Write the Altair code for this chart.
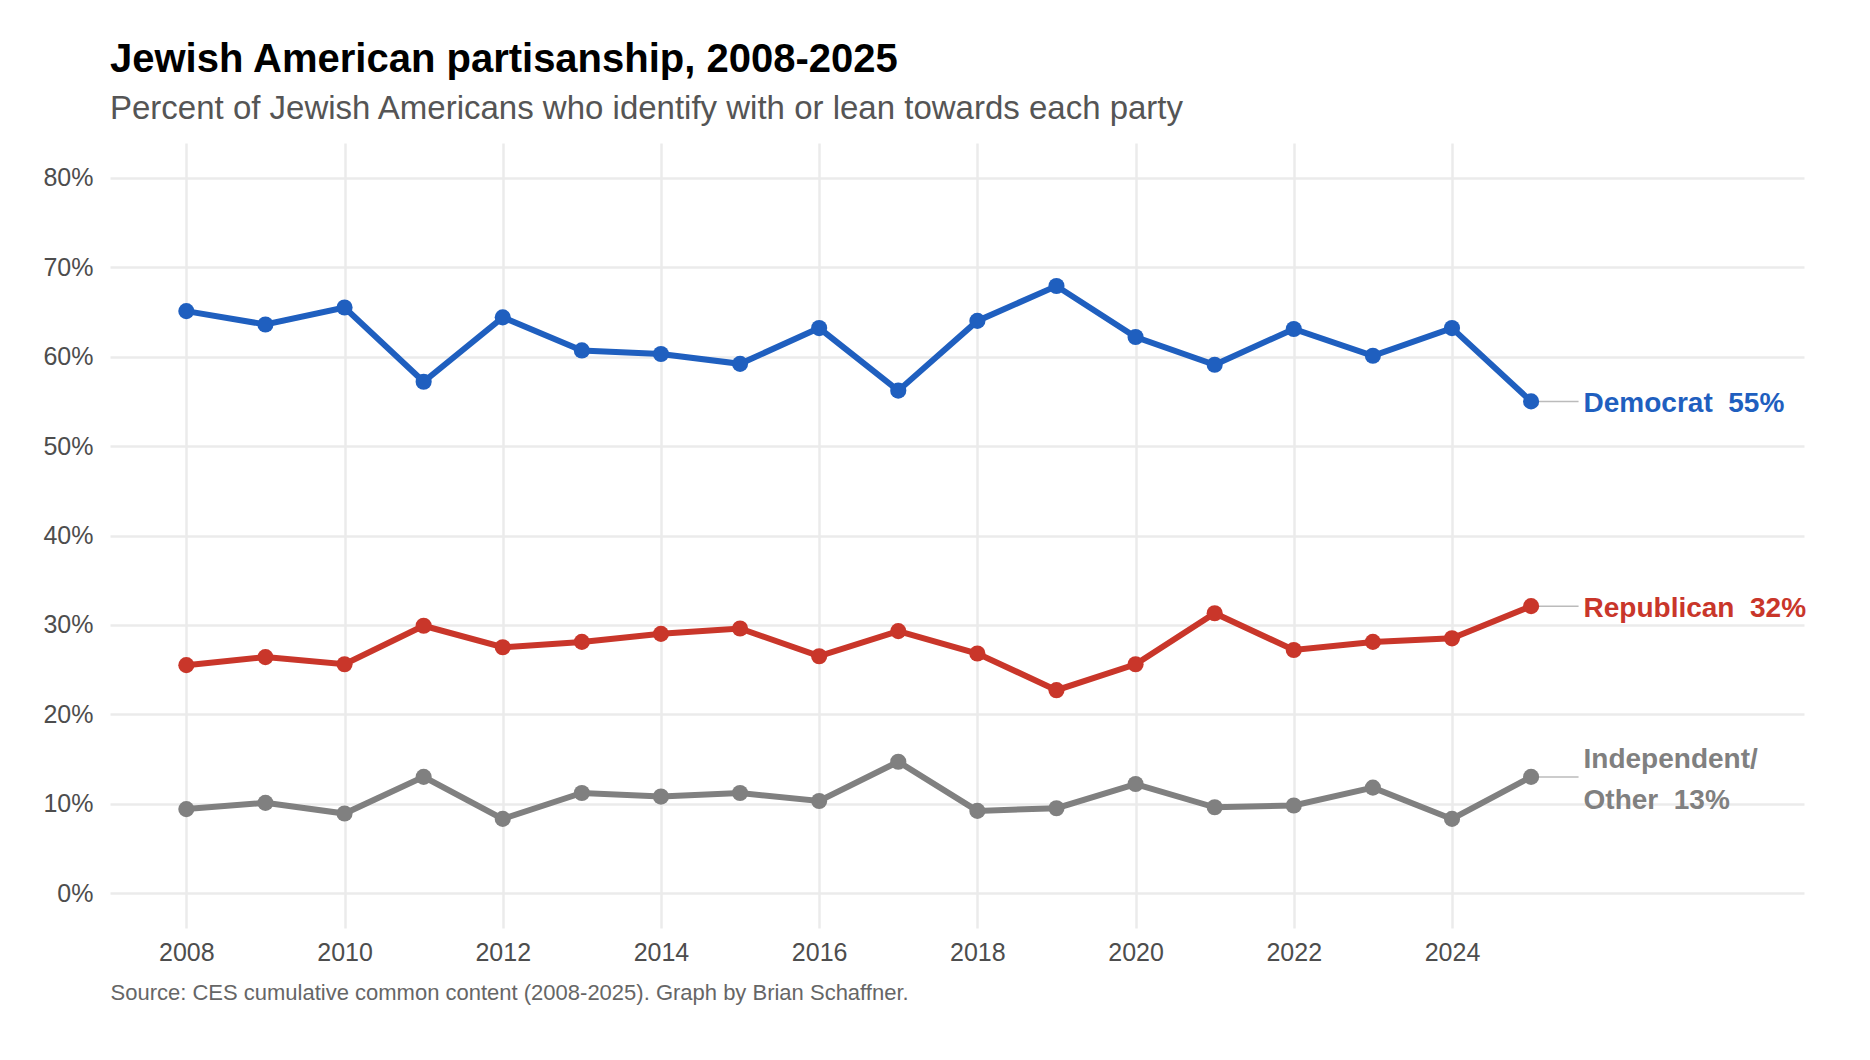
import pandas as pd
import altair as alt

### data (percent of Jewish Americans)

years = list(range(2008, 2026))
democrat = [65.1, 63.6, 65.5, 57.2, 64.4, 60.7, 60.3, 59.2, 63.2, 56.2, 64.0, 67.9, 62.2, 59.1, 63.1, 60.1, 63.2, 55.0]
republican = [25.5, 26.4, 25.6, 29.9, 27.5, 28.1, 29.0, 29.6, 26.5, 29.3, 26.8, 22.7, 25.6, 31.3, 27.2, 28.1, 28.5, 32.1]
independent = [9.4, 10.1, 8.9, 13.0, 8.3, 11.2, 10.8, 11.2, 10.3, 14.7, 9.2, 9.5, 12.2, 9.6, 9.8, 11.8, 8.3, 13.0]

parties = ["Democrat", "Republican", "Independent/Other"]
label_names = ["Democrat", "Republican", "Independent/\nOther"]
colors = ["#1f5fbf", "#c9362a", "#808080"]
text_colors = ["#1f5fbf", "#c9362a", "#888888"]

x_ticks = list(range(2008, 2025, 2))
y_ticks = list(range(0, 90, 10))

### long table for the lines and points

series = [democrat, republican, independent]
rows = []
for party, values in zip(parties, series):
    for year, value in zip(years, values):
        rows.append({"year": year, "party": party, "pct": value})
df = pd.DataFrame(rows)

### end labels: last value of each party

last = df[df["year"] == years[-1]].copy()
last["label"] = [f"{n}\u00a0\u00a0{round(v)}%" for n, v in zip(label_names, last["pct"])]
last["two_lines"] = ["\n" in n for n in label_names]
last["label_x"] = last["year"] + 0.6

color_scale = alt.Scale(domain=parties, range=colors)
text_scale = alt.Scale(domain=parties, range=text_colors)

x_enc = alt.X("year:Q",
    scale=alt.Scale(domain=[2007.035, 2028.45], nice=False, zero=False),
    axis=alt.Axis(values=x_ticks, format="d", grid=True, gridColor="#ebebeb", gridWidth=2.5,
                  ticks=False, domain=False, labelFontSize=25, labelColor="#4d4d4d",
                  labelPadding=12,
                  title="Source: CES cumulative common content (2008-2025). Graph by Brian Schaffner.",
                  titleAnchor="start", titleAlign="left", titleFontSize=22,
                  titleFontWeight="normal", titleColor="#666666", titlePadding=17))
y_enc = alt.Y("pct:Q",
    scale=alt.Scale(domain=[-3.9, 83.9], nice=False, zero=False),
    axis=alt.Axis(values=y_ticks, labelExpr="datum.value + '%'", grid=True, gridColor="#ebebeb",
                  gridWidth=2.5, ticks=False, domain=False, labelFontSize=25,
                  labelColor="#4d4d4d", labelPadding=17, title=None))

base = alt.Chart(df).encode(x=x_enc, y=y_enc,
    color=alt.Color("party:N", scale=color_scale, legend=None))

lines = base.mark_line(strokeWidth=6)
points = base.mark_circle(size=260, opacity=1)

connectors = alt.Chart(last).mark_rule(color="#bbbbbb", strokeWidth=1.5).encode(
    x="year:Q", x2="label_x:Q", y="pct:Q")

label_base = alt.Chart(last).encode(
    x="label_x:Q", y="pct:Q", text="label:N",
    color=alt.Color("party:N", scale=text_scale, legend=None))

### one-line labels sit on the point, the two-line label is centred on it
labels_one = label_base.transform_filter("!datum.two_lines").mark_text(
    align="left", baseline="middle", dx=5, dy=2.5, fontSize=28, fontWeight="bold")
labels_two = label_base.transform_filter("datum.two_lines").mark_text(
    align="left", baseline="middle", dx=5, dy=-17, fontSize=28, fontWeight="bold",
    lineBreak="\n", lineHeight=41)

chart = alt.layer(connectors, lines, points, labels_one, labels_two).properties(
    width=1694, height=785,
    autosize=alt.AutoSizeParams(type="none"),
    padding={"left": 102, "top": 135, "right": 50, "bottom": 120},
    title=alt.Title("Jewish American partisanship, 2008-2025",
                    subtitle="Percent of Jewish Americans who identify with or lean towards each party",
                    anchor="start", frame="group", fontSize=40, fontWeight="bold", color="#000000",
                    subtitleFontSize=33, subtitleColor="#555555", subtitlePadding=13, offset=17),
).configure(font="Liberation Sans").configure_view(stroke=None)

chart.save("out.html", embed_options={"renderer": "svg", "actions": False})
